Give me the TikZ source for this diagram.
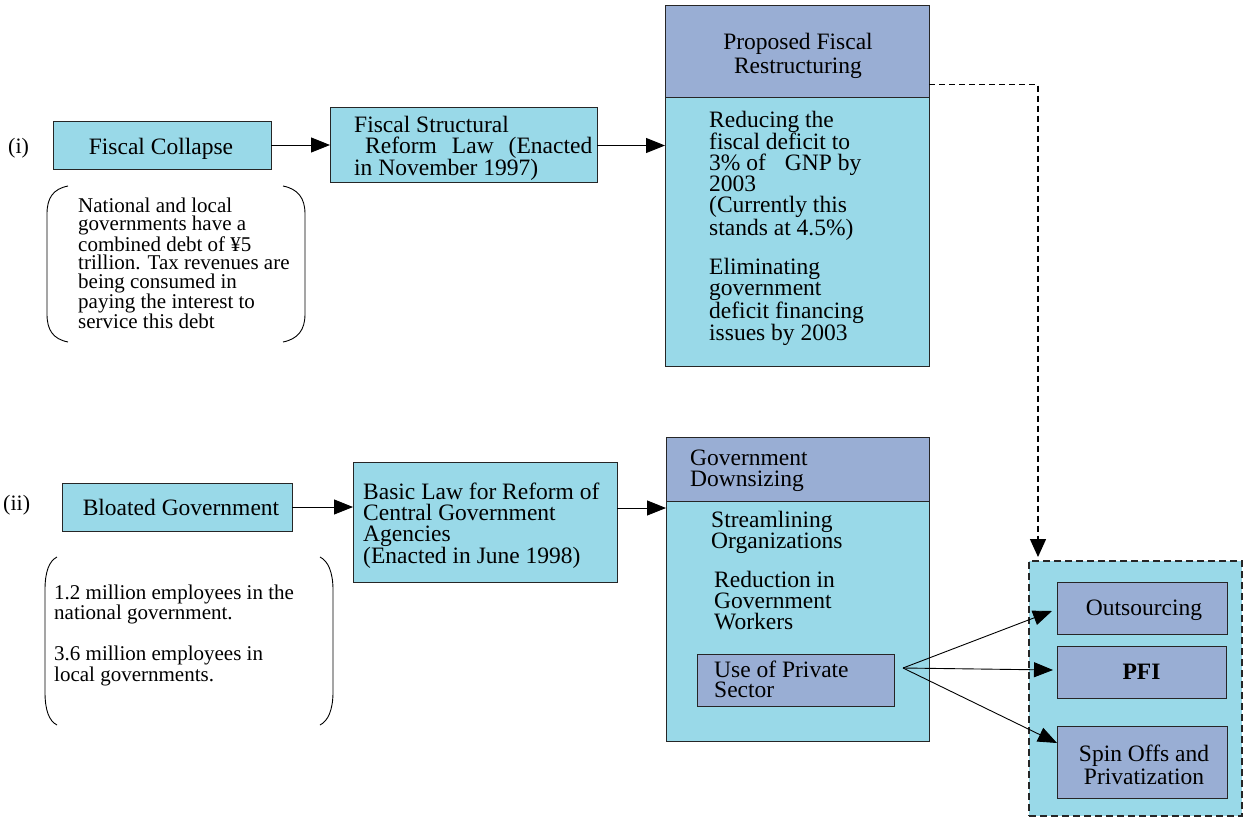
\documentclass[tikz,border=0pt]{standalone}
\usepackage{fontspec}
\setmainfont{Liberation Serif}
\usetikzlibrary{arrows.meta}
\definecolor{cy}{RGB}{153,217,232}
\definecolor{lv}{RGB}{153,174,212}
\begin{document}
\begin{tikzpicture}[x=1pt,y=-1pt,
 bx/.style={draw=black!85, line width=1pt, inner sep=0pt, outer sep=0pt, anchor=north west, font=\fontsize{23.5}{21}\selectfont},
 cbox/.style={bx, fill=cy},
 lbox/.style={bx, fill=lv},
 ctxt/.style={font=\fontsize{23.5}{21}\selectfont, inner sep=0pt, align=center},
 txt/.style={font=\fontsize{23.5}{21}\selectfont, align=left, inner sep=0pt, anchor=north west},
 ntxt/.style={font=\fontsize{21}{18.5}\selectfont, align=left, inner sep=0pt, anchor=north west},
 lbl/.style={font=\fontsize{22}{22}\selectfont, inner sep=0pt, anchor=base west},
 arr/.style={-{Triangle[length=19pt,width=15pt]}, line width=0.9pt, black},
 dsh/.style={line width=1.4pt, dash pattern=on 6pt off 4pt},
 brk/.style={line width=0.9pt, black}
]
\useasboundingbox (0,0) rectangle (1245,819);

% ---- row (i)
\node[lbl] (li) at (8,153) {(i)};
\node[cbox, minimum width=218pt, minimum height=48pt] (fc) at (53,121) {};
\node[ctxt] (fct) at ([xshift=-1pt,yshift=-3.5pt]fc.center) {Fiscal Collapse};
\node[cbox, minimum width=267pt, minimum height=75pt] (fs) at (330,107) {};
\node[txt] (fst) at (354,115.5) {Fiscal Structural\\\hspace{11pt}Reform\hspace{15pt}Law\hspace{15pt}(Enacted\\in November 1997)};
\node[lbox, minimum width=264pt, minimum height=92pt] (ph) at (665,5) {};
\node[cbox, minimum width=264pt, minimum height=269pt] (pb) at (665,97) {};
\node[font=\fontsize{23.5}{24}\selectfont, align=center, inner sep=0pt] (pht) at (798,55.5) {Proposed Fiscal\\Restructuring};
\node[txt] (pbt1) at (709,110.5) {Reducing the\\fiscal deficit to\\3\% of\hspace{19pt}GNP by\\2003\\(Currently this\\stands at 4.5\%)};
\node[txt] (pbt2) at (709,258) {Eliminating\\government\\deficit financing\\issues by 2003};

\draw[brk] (68,186) .. controls (53,189) and (47,198) .. (47,214) -- (47,314) .. controls (47,330) and (53,339) .. (68,342);
\draw[brk] (283,186) .. controls (298,189) and (305,198) .. (305,214) -- (305,314) .. controls (305,330) and (298,339) .. (283,342);
\node[ntxt] (n1) at (78,197.5) {National and local\\governments have a\\combined debt of ¥5\\trillion. Tax revenues are\\being consumed in\\paying the interest to\\service this debt};

\draw[arr] (fc.east) -- (fc.east -| fs.west);
\draw[arr] ([yshift=-1pt]fs.east) -- ([yshift=-1pt]fs.east -| pb.west);

% ---- row (ii)
\node[lbl] (lii) at (3,510) {(ii)};
\node[cbox, minimum width=230pt, minimum height=48pt] (bl) at (62,483) {\hspace{8pt}Bloated Government};
\node[cbox, minimum width=264pt, minimum height=120pt] (bas) at (353,462) {};
\node[txt] (bast) at (363,482.5) {Basic Law for Reform of\\Central Government\\Agencies\\(Enacted in June 1998)};
\node[lbox, minimum width=263pt, minimum height=64pt] (gh) at (666,437) {};
\node[cbox, minimum width=263pt, minimum height=240pt] (gb) at (666,501) {};
\node[txt] (ght) at (690,449.5) {Government\\Downsizing};
\node[txt] (gbt1) at (711,510.5) {Streamlining\\Organizations};
\node[txt] (gbt2) at (714,571) {Reduction in\\Government\\Workers};
\node[lbox, minimum width=197pt, minimum height=52pt] (ups) at (697,654) {};
\node[font=\fontsize{23.5}{20}\selectfont, align=left, inner sep=0pt, anchor=north west] (upst) at (714,661) {Use of Private\\Sector};

\draw[brk] (57,557) .. controls (49,561) and (45,572) .. (45,590) -- (45,692) .. controls (45,710) and (49,721) .. (57,725);
\draw[brk] (320,557) .. controls (328,561) and (333,572) .. (333,590) -- (333,692) .. controls (333,710) and (328,721) .. (320,725);
\node[ntxt, font=\fontsize{21}{20.5}\selectfont] (n2a) at (54,584.5) {1.2 million employees in the\\national government.};
\node[ntxt, font=\fontsize{21}{21}\selectfont] (n2b) at (54,645.5) {3.6 million employees in\\local governments.};

\draw[arr] (bl.east) -- (bl.east -| bas.west);
\draw[arr] ([yshift=14pt]bas.east) -- ([yshift=14pt]bas.east -| gb.west);

% ---- group
\node[bx, fill=cy, line width=1.8pt, dash pattern=on 7pt off 4pt, minimum width=213pt, minimum height=255pt] (grp) at (1029,561) {};
\node[lbox, minimum width=170pt, minimum height=52pt] (out) at (1057,582) {};
\node[ctxt] (outt) at ([xshift=2pt,yshift=-2pt]out.center) {Outsourcing};
\node[lbox, minimum width=169pt, minimum height=52pt, font=\fontsize{23.5}{21}\selectfont\bfseries] (pfi) at (1057,646) {PFI};
\node[lbox, minimum width=170pt, minimum height=72pt] (spin) at (1057,726) {};
\node[ctxt, font=\fontsize{23.5}{23}\selectfont] (spint) at ([xshift=2pt,yshift=-3pt]spin.center) {Spin Offs and\\Privatization};

\coordinate (dend) at (1038,557);
\draw[dsh, -{Triangle[length=18pt,width=16pt]}] ([yshift=-33.5pt]ph.east) -| (dend);

\coordinate (us) at (903,668);
\draw[arr] (us) -- ([xshift=-5pt,yshift=-3pt]out.west);
\draw[arr] (us) -- ([xshift=-4pt,yshift=2pt]pfi.west);
\draw[arr] (us) -- ([xshift=0pt,yshift=19pt]spin.west);
\end{tikzpicture}
\end{document}
